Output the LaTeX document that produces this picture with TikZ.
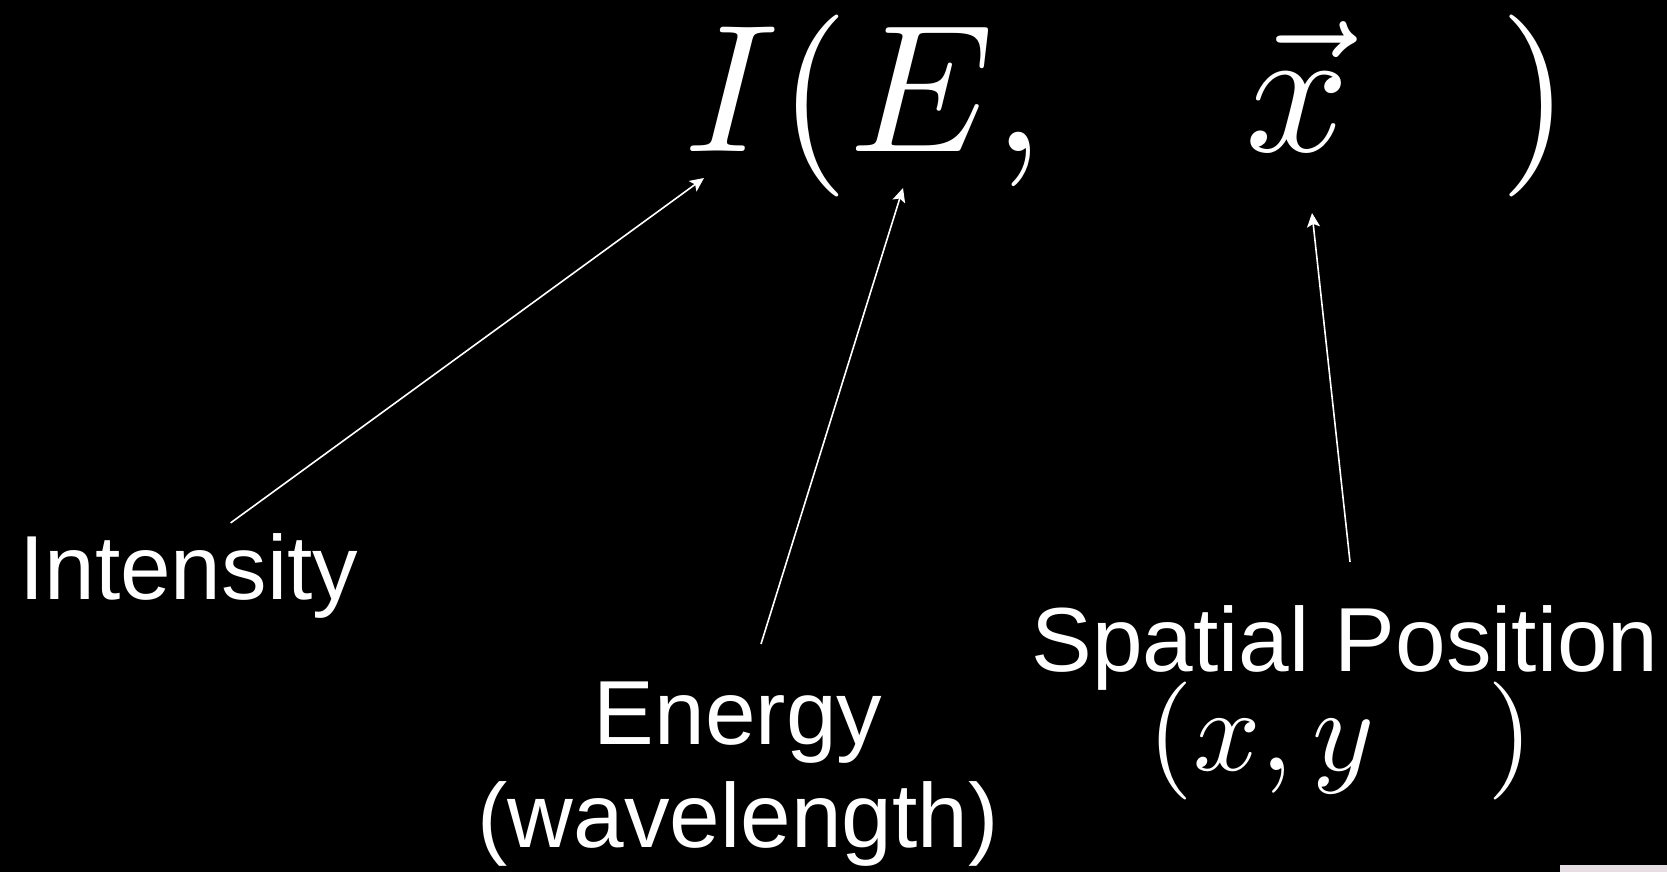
\documentclass[tikz,border=0pt]{standalone}
\usepackage[no-math]{fontspec}
\newfontfamily\arialfont{Liberation Sans}
\usetikzlibrary{arrows.meta,positioning,calc}
\definecolor{cornerpink}{HTML}{E6DEE2}
% scale the 10pt math fonts up to any size
\DeclareFontShape{OML}{cmm}{m}{it}{<->cmmi10}{}
\DeclareFontShape{OT1}{cmr}{m}{n}{<->cmr10}{}
\DeclareFontShape{OMS}{cmsy}{m}{n}{<->cmsy10}{}
\DeclareFontShape{OMX}{cmex}{m}{n}{<->cmex10}{}

\begin{document}
\begin{tikzpicture}[x=1pt, y=-1pt,
  lbl/.style={inner sep=0pt, text=white, font=\arialfont\fontsize{91}{103}\selectfont},
  eqn/.style={inner sep=0pt, text=white},
  arrow/.style={-{Stealth[length=14pt,width=13pt,inset=3pt]}, white, line width=1.6pt}
]
\fill[black] (0,0) rectangle (1667,872);
\useasboundingbox (0,0) rectangle (1667,872);
\fill[cornerpink] (1560,865) rectangle (1667,872);

% the function and its arguments
\node[eqn, anchor=base west, font=\fontsize{182}{200}\selectfont] (func) at (684,151)
  {$I(E,\hspace{171pt}\vec{x}\hspace{149pt})$};

\node[lbl, anchor=base west] (intensity) at (19,599) {Intensity};
\node[lbl, anchor=north, align=center] (energy) at (738,682) {Energy\\(wavelength)};
\node[lbl, anchor=base] (spatial) at (1345,671) {Spatial Position};
\node[eqn, anchor=base west, font=\fontsize{118}{130}\selectfont] (coords) at (1147,770)
  {$(x,y\hspace{112pt})$};

\coordinate (tipI) at (704,178);
\coordinate (tipE) at (903,188);
\coordinate (tipX) at (1312,213);

\draw[arrow] ([xshift=42pt,yshift=10pt]intensity.north) -- (tipI);
\draw[arrow] ([xshift=23pt,yshift=38pt]energy.north) -- (tipE);
\draw[arrow] ([xshift=5pt,yshift=43pt]spatial.north) -- (tipX);
\end{tikzpicture}
\end{document}
